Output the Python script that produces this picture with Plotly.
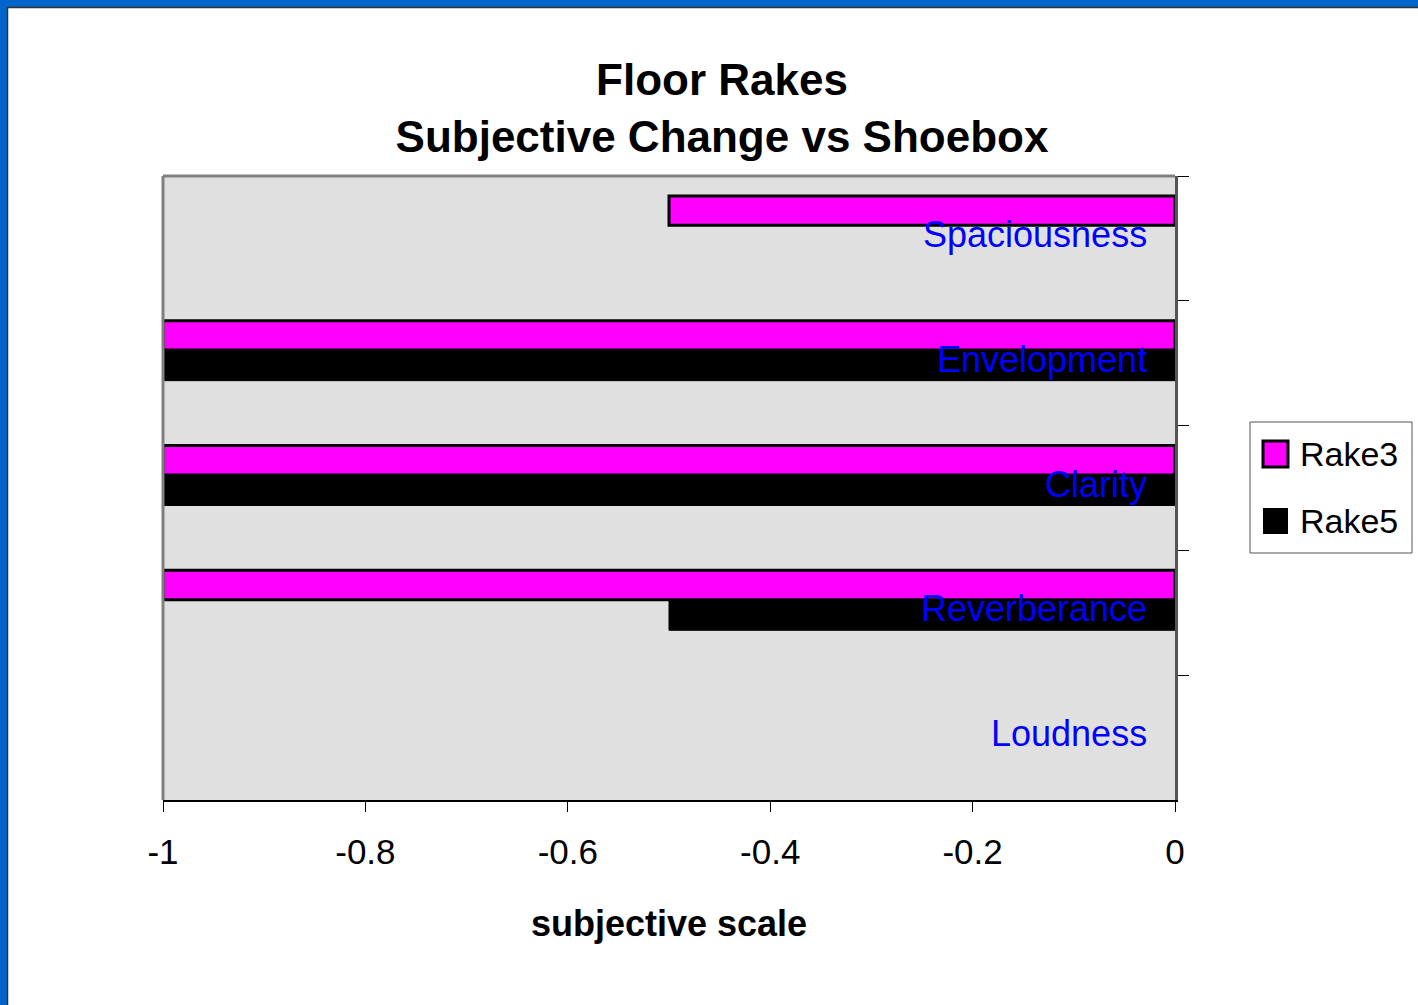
import plotly.graph_objects as go

# Subjective attributes (top to bottom) and change vs shoebox per rake
categories = ["Spaciousness", "Envelopment", "Clarity", "Reverberance", "Loudness"]
rake3 = [-0.5, -1.0, -1.0, -1.0, 0.0]
rake5 = [0.0, -1.0, -1.0, -0.5, 0.0]
x_ticks = [-1, -0.8, -0.6, -0.4, -0.2, 0]
x_tick_labels = ["-1", "-0.8", "-0.6", "-0.4", "-0.2", "0"]

W, H = 1418, 1005
ML, MR, MT, MB = 163, 243, 176, 205
PW, PH = W - ML - MR, H - MT - MB

FONT = "Liberation Sans, Arial, sans-serif"
RAKE3_COLOR = "#FF00FF"
RAKE5_COLOR = "#000000"


def px_x(p):
    return (p - ML) / PW


def px_y(p):
    return (H - MB - p) / PH


def outline_widths(values, width):
    # no outline on empty (zero-length) bars
    return [width if v != 0 else 0 for v in values]


fig = go.Figure()
fig.add_trace(go.Bar(
    y=categories, x=rake3, name="Rake3", orientation="h",
    marker=dict(color=RAKE3_COLOR,
                line=dict(color="#000000", width=outline_widths(rake3, 3))),
    offset=-0.34, width=0.235, showlegend=False,
))
fig.add_trace(go.Bar(
    y=categories, x=rake5, name="Rake5", orientation="h",
    marker=dict(color=RAKE5_COLOR,
                line=dict(color="#000000", width=outline_widths(rake5, 1))),
    offset=-0.105, width=0.245, showlegend=False,
))

shapes = [
    # plot frame: left and top edges (bottom/right come from the axes)
    dict(type="line", xref="paper", yref="paper", x0=0, x1=0, y0=0, y1=1,
         line=dict(color="#808080", width=3), layer="above"),
    dict(type="line", xref="paper", yref="paper", x0=0, x1=1, y0=1, y1=1,
         line=dict(color="#808080", width=3), layer="above"),
    # slide border, left and top
    dict(type="rect", xref="paper", yref="paper", x0=px_x(-2), x1=px_x(7),
         y0=px_y(H + 2), y1=px_y(-2), line=dict(width=0), fillcolor="#0066CC"),
    dict(type="rect", xref="paper", yref="paper", x0=px_x(-2), x1=px_x(W + 2),
         y0=px_y(7), y1=px_y(-2), line=dict(width=0), fillcolor="#0066CC"),
    dict(type="line", xref="paper", yref="paper", x0=px_x(7.5), x1=px_x(7.5),
         y0=px_y(H + 2), y1=px_y(7), line=dict(color="#333333", width=1.5)),
    dict(type="line", xref="paper", yref="paper", x0=px_x(7), x1=px_x(W + 2),
         y0=px_y(7.5), y1=px_y(7.5), line=dict(color="#333333", width=1.5)),
    # legend box
    dict(type="rect", xref="paper", yref="paper", x0=px_x(1250), x1=px_x(1412),
         y0=px_y(553), y1=px_y(422), line=dict(color="#555555", width=1),
         fillcolor="#FFFFFF"),
]

annotations = []

# category names written inside the plot, right-aligned near the value axis
for cat in categories:
    annotations.append(dict(
        x=0, y=cat, xref="x", yref="y", text=cat, showarrow=False,
        xanchor="right", yanchor="middle", xshift=-26, yshift=4,
        font=dict(size=36, family=FONT, color="#0000FF"),
    ))

# legend entries
legend_rows = [(fig.data[0].name, RAKE3_COLOR, 3, 454),
               (fig.data[1].name, RAKE5_COLOR, 0, 521)]
for name, color, lw, cy in legend_rows:
    shapes.append(dict(
        type="rect", xref="paper", yref="paper",
        x0=px_x(1263), x1=px_x(1288), y0=px_y(cy + 13), y1=px_y(cy - 13),
        fillcolor=color, line=dict(color="#000000", width=lw),
    ))
    annotations.append(dict(
        x=px_x(1298), y=px_y(cy), xref="paper", yref="paper", text=name,
        showarrow=False, xanchor="left", yanchor="middle",
        font=dict(size=34, family=FONT, color="#000000"),
    ))

fig.update_layout(
    width=W, height=H,
    margin=dict(l=ML, r=MR, t=MT, b=MB),
    paper_bgcolor="#FFFFFF",
    plot_bgcolor="#E0E0E0",
    barmode="overlay",
    font=dict(family=FONT, color="#000000"),
    title=dict(
        text="<b>Floor Rakes</b><br><b>Subjective Change vs Shoebox</b>",
        x=722 / W, xanchor="center", y=1 - 95 / H, yanchor="middle",
        font=dict(size=44, family=FONT, color="#000000"),
    ),
    xaxis=dict(
        range=[-1, 0], tickvals=x_ticks, ticktext=x_tick_labels,
        showgrid=False, zeroline=False,
        showline=True, linecolor="#000000", linewidth=2,
        ticks="outside", ticklen=10, tickcolor="#000000", tickwidth=1,
        ticklabelstandoff=10,
        tickfont=dict(size=35, family=FONT, color="#000000"),
        title=dict(text="<b>subjective scale</b>", standoff=41,
                   font=dict(size=36, family=FONT, color="#000000")),
    ),
    yaxis=dict(
        type="category", categoryorder="array", categoryarray=categories,
        autorange="reversed", side="right",
        showgrid=False, zeroline=False,
        showline=True, linecolor="#555555", linewidth=3,
        ticks="outside", ticklen=11, tickcolor="#000000", tickwidth=1,
        tickson="boundaries", showticklabels=False,
    ),
    shapes=shapes,
    annotations=annotations,
    showlegend=False,
)

fig.write_html("out.html")
